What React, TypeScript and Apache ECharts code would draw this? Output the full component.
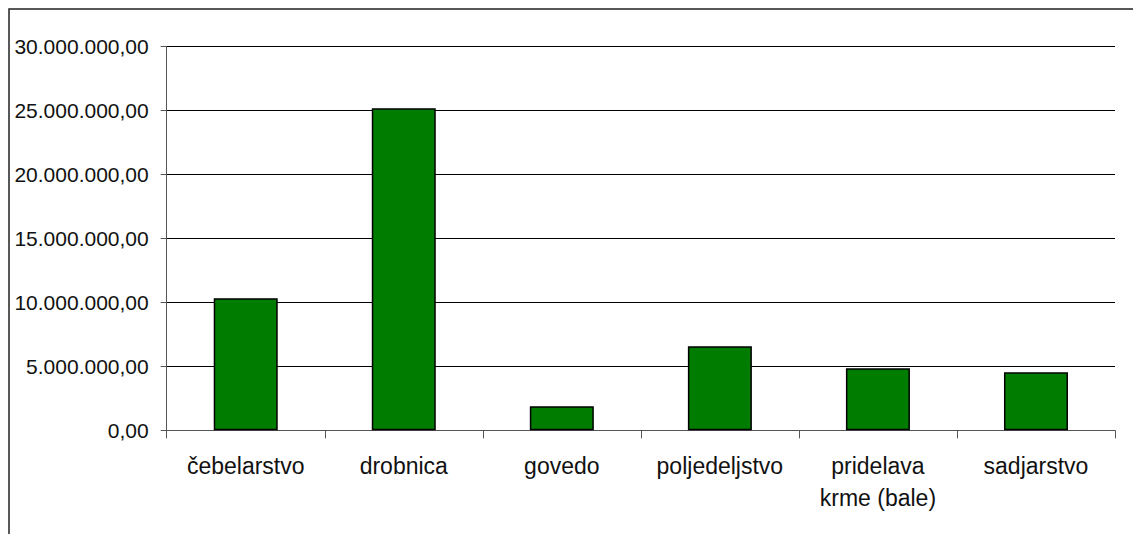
import React, { useEffect, useRef } from "react";
import * as echarts from "echarts";

const categories = [
  "čebelarstvo",
  "drobnica",
  "govedo",
  "poljedeljstvo",
  "pridelava\nkrme (bale)",
  "sadjarstvo",
];
const values = [10320000, 25180000, 1880000, 6570000, 4850000, 4530000];
const yMin = 0;
const yMax = 30000000;
const yStep = 5000000;

function fmt(v: number): string {
  const s = Math.round(v).toString().replace(/\B(?=(\d{3})+(?!\d))/g, ".");
  return s + ",00";
}

export default function App() {
  const ref = useRef<HTMLDivElement>(null);
  useEffect(() => {
    if (!ref.current) return;
    const chart = echarts.init(ref.current, null, { renderer: "svg" });
    chart.setOption({
      animation: false,
      backgroundColor: "#ffffff",
      textStyle: { fontFamily: "Liberation Sans, Arial, sans-serif" },
      graphic: [
        {
          type: "rect",
          shape: { x: 9, y: 9, width: 1300, height: 700 },
          style: { fill: "none", stroke: "#222", lineWidth: 1.5 },
          silent: true,
        },
      ],
      grid: { left: 166.7, right: 18, top: 46.5, bottom: 103.7, containLabel: false },
      xAxis: {
        type: "category",
        data: categories,
        axisLine: { show: true, lineStyle: { color: "#555", width: 1 } },
        axisTick: { show: true, length: 8, lineStyle: { color: "#555" } },
        axisLabel: {
          color: "#111",
          fontSize: 23,
          lineHeight: 32,
          margin: 20,
          interval: 0,
        },
        splitLine: { show: false },
      },
      yAxis: {
        type: "value",
        min: yMin,
        max: yMax,
        interval: yStep,
        axisLine: { show: true, lineStyle: { color: "#555", width: 1 } },
        axisTick: { show: true, length: 6, lineStyle: { color: "#555" } },
        axisLabel: {
          color: "#111",
          fontSize: 21,
          margin: 18,
          formatter: (v: number) => fmt(v),
        },
        splitLine: { show: true, lineStyle: { color: "#000", width: 1 } },
      },
      series: [
        {
          type: "bar",
          data: values,
          barWidth: 64,
          itemStyle: { color: "#007c00", borderColor: "#000", borderWidth: 1.5 },
        },
      ],
    });
    return () => chart.dispose();
  }, []);
  return (
    <div
      ref={ref}
      style={{ position: "fixed", left: 0, top: 0, width: 1133, height: 534 }}
    />
  );
}
